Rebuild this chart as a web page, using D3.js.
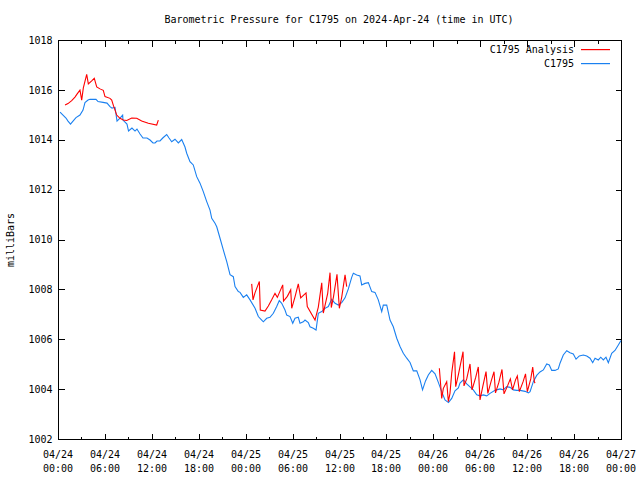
<!DOCTYPE html>
<html><head><meta charset="utf-8">
<script src="https://cdn.jsdelivr.net/npm/d3@7"></script>
<style>body{margin:0;background:#fff}svg text{font-family:"DejaVu Sans Mono","Liberation Mono",monospace;font-size:10px;fill:#000}</style>
</head><body><svg id="c" width="640" height="480"></svg>
<script>
// Hours after 2024-04-24 00:00 UTC and pressure (millibars)
const blueHours = [0.26,0.64,1.02,1.28,1.60,1.92,2.30,2.81,3.20,3.45,3.84,4.09,4.86,5.12,5.76,6.27,6.65,6.91,7.29,7.55,7.93,8.27,8.31,8.82,9.02,9.46,9.85,10.10,10.49,10.87,11.38,11.77,12.15,12.41,12.66,13.04,13.43,13.90,14.20,14.54,14.96,15.39,15.82,16.24,16.46,16.88,17.30,17.74,18.16,18.58,19.02,19.44,19.66,20.08,20.30,20.72,21.14,21.58,22.00,22.42,22.64,23.06,23.28,23.70,24.13,24.56,25.20,25.62,26.05,26.26,26.69,27.11,27.54,27.97,28.30,28.61,29.03,29.25,29.67,30.02,30.31,30.73,30.95,31.37,31.59,32.01,32.23,32.65,33.00,33.29,33.73,34.15,34.57,35.00,35.43,35.85,36.28,36.71,37.13,37.56,37.77,38.20,38.62,38.84,39.26,39.69,40.12,40.54,40.96,41.40,41.60,42.04,42.46,42.88,43.32,43.74,44.16,44.60,45.02,45.44,45.88,46.30,46.62,47.00,47.36,47.79,48.22,48.64,49.07,49.49,49.94,50.35,50.77,51.20,51.41,51.84,52.27,52.69,53.11,53.55,53.97,54.39,54.83,55.25,55.89,56.53,56.95,57.39,57.81,58.23,58.66,59.09,59.73,60.15,60.37,60.79,61.22,61.64,62.07,62.50,62.83,63.14,63.56,63.98,64.20,64.62,65.06,65.48,65.90,66.25,66.67,67.18,67.62,68.04,68.38,68.68,69.10,69.41,69.74,70.08,70.38,70.81,71.23,71.66,72.00];
const blueValues = [1015.11,1014.99,1014.87,1014.75,1014.63,1014.75,1014.89,1014.99,1015.19,1015.49,1015.59,1015.62,1015.62,1015.53,1015.50,1015.47,1015.33,1015.27,1015.30,1014.75,1014.87,1014.99,1014.79,1014.63,1014.35,1014.47,1014.35,1014.43,1014.23,1014.07,1014.07,1013.99,1013.87,1013.87,1013.95,1013.95,1014.08,1014.21,1014.07,1013.92,1014.02,1013.87,1014.01,1013.71,1013.46,1013.12,1012.99,1012.52,1012.26,1011.92,1011.52,1011.18,1010.85,1010.65,1010.51,1010.05,1009.58,1009.11,1008.59,1008.51,1008.11,1007.91,1007.88,1007.68,1007.78,1007.58,1007.24,1006.91,1006.77,1006.70,1006.84,1006.88,1007.04,1007.31,1007.55,1007.44,1007.17,1006.97,1006.91,1006.64,1006.84,1006.88,1006.64,1006.70,1006.77,1006.67,1006.50,1006.44,1006.37,1007.04,1007.11,1007.24,1007.31,1007.60,1007.44,1007.37,1007.47,1007.66,1008.02,1008.48,1008.65,1008.58,1008.54,1008.18,1008.24,1008.27,1007.91,1007.88,1007.58,1007.11,1007.37,1007.37,1006.77,1006.50,1006.04,1005.71,1005.44,1005.24,1005.07,1004.73,1004.73,1004.37,1003.97,1004.33,1004.57,1004.75,1004.61,1004.27,1003.90,1003.57,1003.46,1003.63,1003.93,1004.05,1004.24,1004.37,1004.21,1004.09,1003.97,1003.77,1003.73,1003.77,1003.73,1003.83,1003.95,1004.01,1003.97,1004.10,1004.07,1003.97,1003.95,1003.95,1003.91,1003.85,1003.90,1004.30,1004.55,1004.69,1004.77,1005.01,1004.97,1004.75,1004.75,1004.81,1005.04,1005.37,1005.54,1005.46,1005.41,1005.20,1005.33,1005.37,1005.33,1005.24,1005.06,1005.24,1005.17,1005.28,1005.17,1005.28,1005.06,1005.44,1005.55,1005.77,1005.95];
// null separates the analysis segments
const redHours = [0.90,1.28,1.75,2.17,2.43,2.81,3.03,3.24,3.67,3.88,4.31,4.64,4.95,5.37,5.79,6.01,6.65,6.87,7.07,7.51,7.93,8.35,8.79,9.43,10.07,10.70,11.55,12.62,12.83,
  null,
  24.77,24.94,25.19,25.75,25.87,26.47,26.90,27.33,27.75,28.05,28.74,28.84,29.33,29.76,29.89,30.31,30.73,31.04,31.72,31.88,32.87,33.29,33.73,33.93,34.49,34.79,34.95,35.23,35.68,35.98,36.28,36.71,36.92,
  null,
  48.77,49.07,49.28,49.71,49.92,50.13,50.35,50.71,50.86,51.20,51.80,51.92,52.27,52.69,52.95,53.40,53.75,53.97,54.32,54.74,54.97,55.38,55.76,55.95,56.38,56.78,57.04,57.49,57.85,58.13,58.51,58.74,59.00,59.47,59.79,60.02,60.46,60.71,60.92,61.01];
const redValues = [1015.39,1015.45,1015.57,1015.71,1015.83,1015.99,1015.59,1016.08,1016.62,1016.24,1016.36,1016.46,1016.12,1016.04,1015.98,1015.73,1015.66,1015.59,1015.39,1014.99,1014.86,1014.79,1014.77,1014.87,1014.86,1014.75,1014.66,1014.59,1014.79,
  null,
  1008.22,1007.58,1007.86,1008.32,1007.17,1007.13,1007.33,1007.58,1007.84,1007.68,1008.18,1007.53,1007.72,1007.98,1007.24,1007.70,1008.22,1007.66,1007.86,1007.31,1006.77,1007.29,1008.26,1007.05,1007.84,1008.67,1007.27,1007.70,1008.60,1007.24,1007.68,1008.58,1008.11,
  null,
  1004.84,1003.63,1004.03,1004.30,1003.50,1003.83,1004.64,1005.50,1004.10,1004.57,1005.50,1004.13,1004.41,1005.01,1003.97,1004.45,1004.89,1003.57,1004.10,1004.70,1003.83,1004.30,1004.70,1003.85,1004.27,1004.79,1003.81,1004.13,1004.41,1003.97,1004.37,1004.53,1003.90,1004.29,1004.61,1003.90,1004.41,1004.88,1004.29,1004.24];
const yTicks = [1002,1004,1006,1008,1010,1012,1014,1016,1018];
const seriesNames = ["C1795 Analysis","C1795"];
const seriesColors = ["#ff0000","#1a80f0"];
const titleText = "Barometric Pressure for C1795 on 2024-Apr-24 (time in UTC)";
const yLabel = "milliBars";

const t0 = Date.UTC(2024,3,24,0,0);
const toDate = h => new Date(t0 + h*3600000);
const L=58, R=621, T=40, B=439;
const svg = d3.select("#c");
const x = d3.scaleUtc().domain([toDate(0), toDate(72)]).range([L,R]);
const y = d3.scaleLinear().domain([1002,1018]).range([B,T]);

// frame
svg.append("rect").attr("x",L+0.5).attr("y",T+0.5).attr("width",R-L).attr("height",B-T)
  .attr("fill","none").attr("stroke","#000").attr("stroke-width",1);

// y ticks
const yAxisL = d3.axisLeft(y).tickValues(yTicks).tickSizeInner(-6).tickSizeOuter(0).tickPadding(6).tickFormat(d3.format("d"));
const gyl = svg.append("g").attr("transform",`translate(${L+0.5},0)`).call(yAxisL);
const yAxisR = d3.axisRight(y).tickValues(yTicks).tickSizeInner(-6).tickSizeOuter(0).tickFormat("");
const gyr = svg.append("g").attr("transform",`translate(${R+0.5},0)`).call(yAxisR);
// x ticks
const majors = d3.utcHour.every(6).range(toDate(0), toDate(72.01));
const minors = d3.utcHour.every(3).range(toDate(0), toDate(72.01)).filter(d=>d.getUTCHours()%6!==0);
svg.append("g").attr("transform",`translate(0,${B+0.5})`).call(d3.axisBottom(x).tickValues(majors).tickSizeInner(-6).tickSizeOuter(0).tickFormat(""));
svg.append("g").attr("transform",`translate(0,${B+0.5})`).call(d3.axisBottom(x).tickValues(minors).tickSizeInner(-3).tickSizeOuter(0).tickFormat(""));
svg.append("g").attr("transform",`translate(0,${T+0.5})`).call(d3.axisTop(x).tickValues(majors).tickSizeInner(-6).tickSizeOuter(0).tickFormat(""));
svg.append("g").attr("transform",`translate(0,${T+0.5})`).call(d3.axisTop(x).tickValues(minors).tickSizeInner(-3).tickSizeOuter(0).tickFormat(""));
svg.selectAll(".domain").remove();
svg.selectAll(".tick line").attr("stroke","#000").attr("shape-rendering","crispEdges");
gyl.selectAll("text").attr("font-family",null).attr("font-size",null).attr("x",-6);
// x labels (two lines)
const fmtD = d3.utcFormat("%m/%d"), fmtT = d3.utcFormat("%H:%M");
const xl = svg.append("g");
majors.forEach(d=>{
  xl.append("text").attr("x",Math.round(x(d))).attr("y",458).attr("text-anchor","middle").text(fmtD(d));
  xl.append("text").attr("x",Math.round(x(d))).attr("y",472).attr("text-anchor","middle").text(fmtT(d));
});
// titles
svg.append("text").attr("x",339).attr("y",23).attr("text-anchor","middle").text(titleText);
svg.append("text").attr("transform","translate(14,240) rotate(-90)").attr("text-anchor","middle").text(yLabel);

// lines
svg.append("clipPath").attr("id","clip").append("rect").attr("x",L).attr("y",T).attr("width",R-L+1).attr("height",B-T+1);
const blue = blueHours.map((h,i)=>({t:toDate(h),v:blueValues[i]}));
const red = redHours.map((h,i)=>({t:h===null?null:toDate(h),v:redValues[i]}));
const line = d3.line().defined(d=>d.t!==null && d.v!==null).x(d=>x(d.t)).y(d=>y(d.v));
svg.append("path").datum(blue).attr("d",line).attr("fill","none").style("stroke",seriesColors[1]).attr("stroke-width",1.1).attr("clip-path","url(#clip)");
svg.append("path").datum(red).attr("d",line).attr("fill","none").style("stroke",seriesColors[0]).attr("stroke-width",1.1).attr("clip-path","url(#clip)");

// legend
seriesNames.forEach((n,i)=>{
  const yy = 49 + i*14;
  svg.append("text").attr("x",574).attr("y",yy+4).attr("text-anchor","end").text(n);
  svg.append("rect").attr("x",581).attr("y",yy).attr("width",29).attr("height",1.2).style("fill",seriesColors[i]);
});
</script></body></html>
